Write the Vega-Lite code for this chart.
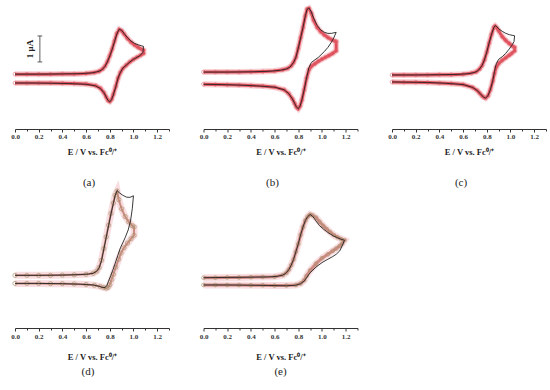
{
"$schema": "https://vega.github.io/schema/vega-lite/v6.json",
"background": "white",
"padding": {"left": 1, "top": -4, "right": 0, "bottom": 0},
"config": {"view": {"stroke": null}},
"datasets": {
"a_exp": [
{"k":1,"E":0.0,"I":0.15},{"k":2,"E":0.2,"I":0.15},{"k":3,"E":0.4,"I":0.16},{"k":4,"E":0.55,"I":0.17},{"k":5,"E":0.65,"I":0.2},{"k":6,"E":0.7,"I":0.25},{"k":7,"E":0.73,"I":0.3},{"k":8,"E":0.76,"I":0.45},{"k":9,"E":0.78,"I":0.62},{"k":10,"E":0.8,"I":0.85},{"k":11,"E":0.82,"I":1.1},{"k":12,"E":0.84,"I":1.4},{"k":13,"E":0.86,"I":1.7},{"k":14,"E":0.88,"I":1.88},{"k":15,"E":0.9,"I":1.84},{"k":16,"E":0.92,"I":1.72},{"k":17,"E":0.95,"I":1.55},{"k":18,"E":0.98,"I":1.42},{"k":19,"E":1.01,"I":1.33},{"k":20,"E":1.04,"I":1.28},{"k":21,"E":1.07,"I":1.24},{"k":22,"E":1.085,"I":1.22},
{"k":23,"E":1.08,"I":0.98},{"k":24,"E":1.05,"I":0.85},{"k":25,"E":1.02,"I":0.77},{"k":26,"E":1.0,"I":0.72},{"k":27,"E":0.97,"I":0.62},{"k":28,"E":0.94,"I":0.5},{"k":29,"E":0.91,"I":0.38},{"k":30,"E":0.89,"I":0.22},{"k":31,"E":0.87,"I":0.0},{"k":32,"E":0.85,"I":-0.35},{"k":33,"E":0.83,"I":-0.65},{"k":34,"E":0.815,"I":-0.83},{"k":35,"E":0.8,"I":-0.92},{"k":36,"E":0.785,"I":-0.86},{"k":37,"E":0.77,"I":-0.73},{"k":38,"E":0.75,"I":-0.56},{"k":39,"E":0.72,"I":-0.4},{"k":40,"E":0.68,"I":-0.3},{"k":41,"E":0.6,"I":-0.24},{"k":42,"E":0.45,"I":-0.21},{"k":43,"E":0.3,"I":-0.2},{"k":44,"E":0.15,"I":-0.19},{"k":45,"E":0.0,"I":-0.19}
],
"a_sim": [
{"k":1,"E":0.0,"I":0.15},{"k":2,"E":0.1,"I":0.15},{"k":3,"E":0.2,"I":0.15},{"k":4,"E":0.3,"I":0.15},{"k":5,"E":0.4,"I":0.16},{"k":6,"E":0.5,"I":0.16},{"k":7,"E":0.6,"I":0.18},{"k":8,"E":0.67,"I":0.21},{"k":9,"E":0.71,"I":0.26},{"k":10,"E":0.74,"I":0.35},{"k":11,"E":0.76,"I":0.46},{"k":12,"E":0.78,"I":0.63},{"k":13,"E":0.8,"I":0.86},{"k":14,"E":0.82,"I":1.12},{"k":15,"E":0.84,"I":1.42},{"k":16,"E":0.86,"I":1.72},{"k":17,"E":0.88,"I":1.87},{"k":18,"E":0.9,"I":1.82},{"k":19,"E":0.92,"I":1.7},{"k":20,"E":0.95,"I":1.52},{"k":21,"E":0.98,"I":1.38},{"k":22,"E":1.01,"I":1.27},{"k":23,"E":1.04,"I":1.18},{"k":24,"E":1.07,"I":1.1},{"k":25,"E":1.085,"I":1.07},
{"k":26,"E":1.085,"I":0.95},{"k":27,"E":1.06,"I":0.88},{"k":28,"E":1.03,"I":0.8},{"k":29,"E":1.0,"I":0.72},{"k":30,"E":0.97,"I":0.62},{"k":31,"E":0.94,"I":0.5},{"k":32,"E":0.91,"I":0.37},{"k":33,"E":0.89,"I":0.22},{"k":34,"E":0.87,"I":0.0},{"k":35,"E":0.85,"I":-0.33},{"k":36,"E":0.83,"I":-0.63},{"k":37,"E":0.815,"I":-0.82},{"k":38,"E":0.8,"I":-0.9},{"k":39,"E":0.785,"I":-0.86},{"k":40,"E":0.77,"I":-0.73},{"k":41,"E":0.75,"I":-0.56},{"k":42,"E":0.72,"I":-0.39},{"k":43,"E":0.68,"I":-0.29},{"k":44,"E":0.6,"I":-0.23},{"k":45,"E":0.5,"I":-0.21},{"k":46,"E":0.4,"I":-0.2},{"k":47,"E":0.3,"I":-0.19},{"k":48,"E":0.2,"I":-0.19},{"k":49,"E":0.1,"I":-0.19},{"k":50,"E":0.0,"I":-0.19}
],
"b_exp": [
{"k":1,"E":0.0,"I":0.23},{"k":2,"E":0.2,"I":0.23},{"k":3,"E":0.4,"I":0.24},{"k":4,"E":0.55,"I":0.26},{"k":5,"E":0.65,"I":0.3},{"k":6,"E":0.7,"I":0.35},{"k":7,"E":0.73,"I":0.42},{"k":8,"E":0.76,"I":0.6},{"k":9,"E":0.78,"I":0.8},{"k":10,"E":0.8,"I":1.15},{"k":11,"E":0.82,"I":1.55},{"k":12,"E":0.84,"I":1.95},{"k":13,"E":0.86,"I":2.4},{"k":14,"E":0.875,"I":2.65},{"k":15,"E":0.89,"I":2.7},{"k":16,"E":0.91,"I":2.55},{"k":17,"E":0.93,"I":2.3},{"k":18,"E":0.96,"I":2.02},{"k":19,"E":0.99,"I":1.85},{"k":20,"E":1.02,"I":1.76},{"k":21,"E":1.05,"I":1.72},{"k":22,"E":1.08,"I":1.72},{"k":23,"E":1.11,"I":1.75},{"k":24,"E":1.12,"I":1.76},
{"k":25,"E":1.1,"I":1.55},{"k":26,"E":1.08,"I":1.38},{"k":27,"E":1.05,"I":1.18},{"k":28,"E":1.02,"I":1.02},{"k":29,"E":1.0,"I":0.93},{"k":30,"E":0.97,"I":0.8},{"k":31,"E":0.94,"I":0.7},{"k":32,"E":0.91,"I":0.6},{"k":33,"E":0.89,"I":0.4},{"k":34,"E":0.87,"I":0.0},{"k":35,"E":0.85,"I":-0.45},{"k":36,"E":0.83,"I":-0.85},{"k":37,"E":0.815,"I":-1.08},{"k":38,"E":0.8,"I":-1.18},{"k":39,"E":0.785,"I":-1.12},{"k":40,"E":0.77,"I":-0.98},{"k":41,"E":0.75,"I":-0.8},{"k":42,"E":0.72,"I":-0.6},{"k":43,"E":0.68,"I":-0.45},{"k":44,"E":0.6,"I":-0.35},{"k":45,"E":0.45,"I":-0.3},{"k":46,"E":0.3,"I":-0.27},{"k":47,"E":0.15,"I":-0.25},{"k":48,"E":0.0,"I":-0.24}
],
"b_sim": [
{"k":1,"E":0.0,"I":0.23},{"k":2,"E":0.1,"I":0.23},{"k":3,"E":0.2,"I":0.23},{"k":4,"E":0.3,"I":0.23},{"k":5,"E":0.4,"I":0.24},{"k":6,"E":0.5,"I":0.25},{"k":7,"E":0.6,"I":0.27},{"k":8,"E":0.67,"I":0.32},{"k":9,"E":0.71,"I":0.37},{"k":10,"E":0.74,"I":0.47},{"k":11,"E":0.76,"I":0.6},{"k":12,"E":0.78,"I":0.8},{"k":13,"E":0.8,"I":1.15},{"k":14,"E":0.82,"I":1.55},{"k":15,"E":0.84,"I":1.95},{"k":16,"E":0.86,"I":2.4},{"k":17,"E":0.875,"I":2.65},{"k":18,"E":0.89,"I":2.68},{"k":19,"E":0.91,"I":2.5},{"k":20,"E":0.93,"I":2.22},{"k":21,"E":0.96,"I":1.95},{"k":22,"E":0.99,"I":1.78},{"k":23,"E":1.02,"I":1.66},{"k":24,"E":1.05,"I":1.56},{"k":25,"E":1.08,"I":1.48},{"k":26,"E":1.11,"I":1.42},{"k":27,"E":1.12,"I":1.4},
{"k":28,"E":1.12,"I":1.05},{"k":29,"E":1.09,"I":0.95},{"k":30,"E":1.06,"I":0.87},{"k":31,"E":1.03,"I":0.8},{"k":32,"E":1.0,"I":0.73},{"k":33,"E":0.97,"I":0.65},{"k":34,"E":0.94,"I":0.55},{"k":35,"E":0.91,"I":0.45},{"k":36,"E":0.89,"I":0.32},{"k":37,"E":0.87,"I":0.0},{"k":38,"E":0.85,"I":-0.45},{"k":39,"E":0.83,"I":-0.85},{"k":40,"E":0.815,"I":-1.08},{"k":41,"E":0.8,"I":-1.18},{"k":42,"E":0.785,"I":-1.12},{"k":43,"E":0.77,"I":-0.98},{"k":44,"E":0.75,"I":-0.8},{"k":45,"E":0.72,"I":-0.6},{"k":46,"E":0.68,"I":-0.45},{"k":47,"E":0.6,"I":-0.35},{"k":48,"E":0.5,"I":-0.31},{"k":49,"E":0.4,"I":-0.29},{"k":50,"E":0.3,"I":-0.27},{"k":51,"E":0.2,"I":-0.26},{"k":52,"E":0.1,"I":-0.25},{"k":53,"E":0.0,"I":-0.24}
],
"c_exp": [
{"k":1,"E":0.0,"I":0.12},{"k":2,"E":0.2,"I":0.12},{"k":3,"E":0.4,"I":0.13},{"k":4,"E":0.55,"I":0.14},{"k":5,"E":0.65,"I":0.17},{"k":6,"E":0.7,"I":0.22},{"k":7,"E":0.73,"I":0.3},{"k":8,"E":0.76,"I":0.48},{"k":9,"E":0.78,"I":0.7},{"k":10,"E":0.8,"I":1.0},{"k":11,"E":0.82,"I":1.35},{"k":12,"E":0.84,"I":1.68},{"k":13,"E":0.86,"I":1.95},{"k":14,"E":0.87,"I":2.02},{"k":15,"E":0.885,"I":1.98},{"k":16,"E":0.9,"I":1.9},{"k":17,"E":0.93,"I":1.8},{"k":18,"E":0.96,"I":1.72},{"k":19,"E":0.99,"I":1.67},{"k":20,"E":1.02,"I":1.64},{"k":21,"E":1.035,"I":1.63},
{"k":22,"E":1.03,"I":1.4},{"k":23,"E":1.01,"I":1.25},{"k":24,"E":0.99,"I":1.12},{"k":25,"E":0.96,"I":0.95},{"k":26,"E":0.93,"I":0.82},{"k":27,"E":0.9,"I":0.72},{"k":28,"E":0.88,"I":0.55},{"k":29,"E":0.865,"I":0.25},{"k":30,"E":0.85,"I":-0.12},{"k":31,"E":0.83,"I":-0.45},{"k":32,"E":0.81,"I":-0.68},{"k":33,"E":0.79,"I":-0.77},{"k":34,"E":0.775,"I":-0.74},{"k":35,"E":0.76,"I":-0.68},{"k":36,"E":0.74,"I":-0.58},{"k":37,"E":0.72,"I":-0.48},{"k":38,"E":0.68,"I":-0.36},{"k":39,"E":0.6,"I":-0.25},{"k":40,"E":0.45,"I":-0.2},{"k":41,"E":0.3,"I":-0.17},{"k":42,"E":0.15,"I":-0.16},{"k":43,"E":0.0,"I":-0.15}
],
"c_sim": [
{"k":1,"E":0.0,"I":0.12},{"k":2,"E":0.1,"I":0.12},{"k":3,"E":0.2,"I":0.12},{"k":4,"E":0.3,"I":0.12},{"k":5,"E":0.4,"I":0.13},{"k":6,"E":0.5,"I":0.13},{"k":7,"E":0.6,"I":0.15},{"k":8,"E":0.67,"I":0.19},{"k":9,"E":0.71,"I":0.24},{"k":10,"E":0.74,"I":0.35},{"k":11,"E":0.76,"I":0.48},{"k":12,"E":0.78,"I":0.7},{"k":13,"E":0.8,"I":1.0},{"k":14,"E":0.82,"I":1.35},{"k":15,"E":0.84,"I":1.68},{"k":16,"E":0.86,"I":1.95},{"k":17,"E":0.87,"I":2.0},{"k":18,"E":0.885,"I":1.93},{"k":19,"E":0.9,"I":1.82},{"k":20,"E":0.93,"I":1.6},{"k":21,"E":0.96,"I":1.45},{"k":22,"E":0.99,"I":1.33},{"k":23,"E":1.02,"I":1.22},{"k":24,"E":1.035,"I":1.18},
{"k":25,"E":1.035,"I":1.05},{"k":26,"E":1.01,"I":0.95},{"k":27,"E":0.99,"I":0.88},{"k":28,"E":0.96,"I":0.78},{"k":29,"E":0.93,"I":0.68},{"k":30,"E":0.9,"I":0.56},{"k":31,"E":0.88,"I":0.42},{"k":32,"E":0.865,"I":0.18},{"k":33,"E":0.85,"I":-0.12},{"k":34,"E":0.83,"I":-0.45},{"k":35,"E":0.81,"I":-0.68},{"k":36,"E":0.79,"I":-0.77},{"k":37,"E":0.775,"I":-0.74},{"k":38,"E":0.76,"I":-0.68},{"k":39,"E":0.74,"I":-0.58},{"k":40,"E":0.72,"I":-0.48},{"k":41,"E":0.68,"I":-0.36},{"k":42,"E":0.6,"I":-0.25},{"k":43,"E":0.5,"I":-0.21},{"k":44,"E":0.4,"I":-0.19},{"k":45,"E":0.3,"I":-0.17},{"k":46,"E":0.2,"I":-0.16},{"k":47,"E":0.1,"I":-0.16},{"k":48,"E":0.0,"I":-0.15}
],
"d_exp": [
{"k":1,"E":0.0,"I":0.14},{"k":2,"E":0.2,"I":0.14},{"k":3,"E":0.4,"I":0.15},{"k":4,"E":0.55,"I":0.17},{"k":5,"E":0.62,"I":0.19},{"k":6,"E":0.66,"I":0.22},{"k":7,"E":0.69,"I":0.3},{"k":8,"E":0.71,"I":0.42},{"k":9,"E":0.73,"I":0.7},{"k":10,"E":0.75,"I":1.15},{"k":11,"E":0.77,"I":1.6},{"k":12,"E":0.79,"I":2.05},{"k":13,"E":0.81,"I":2.5},{"k":14,"E":0.83,"I":2.9},{"k":15,"E":0.845,"I":3.2},{"k":16,"E":0.862,"I":3.4},{"k":17,"E":0.88,"I":3.32},{"k":18,"E":0.91,"I":3.22},{"k":19,"E":0.94,"I":3.15},{"k":20,"E":0.97,"I":3.14},{"k":21,"E":1.0,"I":3.2},
{"k":22,"E":0.99,"I":2.7},{"k":23,"E":0.975,"I":2.23},{"k":24,"E":0.955,"I":1.88},{"k":25,"E":0.93,"I":1.59},{"k":26,"E":0.89,"I":1.2},{"k":27,"E":0.86,"I":0.8},{"k":28,"E":0.833,"I":0.43},{"k":29,"E":0.81,"I":0.15},{"k":30,"E":0.79,"I":-0.08},{"k":31,"E":0.775,"I":-0.25},{"k":32,"E":0.76,"I":-0.33},{"k":33,"E":0.74,"I":-0.33},{"k":34,"E":0.71,"I":-0.28},{"k":35,"E":0.66,"I":-0.23},{"k":36,"E":0.55,"I":-0.2},{"k":37,"E":0.4,"I":-0.18},{"k":38,"E":0.2,"I":-0.17},{"k":39,"E":0.0,"I":-0.17}
],
"d_sim": [
{"k":1,"E":0.0,"I":0.14},{"k":2,"E":0.1,"I":0.14},{"k":3,"E":0.2,"I":0.14},{"k":4,"E":0.3,"I":0.14},{"k":5,"E":0.4,"I":0.15},{"k":6,"E":0.5,"I":0.16},{"k":7,"E":0.6,"I":0.18},{"k":8,"E":0.66,"I":0.22},{"k":9,"E":0.69,"I":0.3},{"k":10,"E":0.71,"I":0.44},{"k":11,"E":0.73,"I":0.72},{"k":12,"E":0.75,"I":1.17},{"k":13,"E":0.77,"I":1.62},{"k":14,"E":0.79,"I":2.07},{"k":15,"E":0.81,"I":2.52},{"k":16,"E":0.83,"I":2.92},{"k":17,"E":0.845,"I":3.22},{"k":18,"E":0.862,"I":3.38},{"k":19,"E":0.876,"I":3.05},{"k":20,"E":0.9,"I":2.7},{"k":21,"E":0.93,"I":2.4},{"k":22,"E":0.96,"I":2.2},{"k":23,"E":0.99,"I":2.05},{"k":24,"E":1.005,"I":2.0},
{"k":25,"E":1.005,"I":1.68},{"k":26,"E":0.98,"I":1.55},{"k":27,"E":0.95,"I":1.38},{"k":28,"E":0.92,"I":1.2},{"k":29,"E":0.895,"I":1.0},{"k":30,"E":0.875,"I":0.76},{"k":31,"E":0.85,"I":0.45},{"k":32,"E":0.83,"I":0.18},{"k":33,"E":0.815,"I":-0.02},{"k":34,"E":0.8,"I":-0.22},{"k":35,"E":0.785,"I":-0.32},{"k":36,"E":0.77,"I":-0.35},{"k":37,"E":0.75,"I":-0.33},{"k":38,"E":0.72,"I":-0.29},{"k":39,"E":0.67,"I":-0.24},{"k":40,"E":0.6,"I":-0.21},{"k":41,"E":0.5,"I":-0.19},{"k":42,"E":0.4,"I":-0.18},{"k":43,"E":0.3,"I":-0.18},{"k":44,"E":0.2,"I":-0.17},{"k":45,"E":0.1,"I":-0.17},{"k":46,"E":0.0,"I":-0.17}
],
"e_exp": [
{"k":1,"E":0.0,"I":0.05},{"k":2,"E":0.2,"I":0.06},{"k":3,"E":0.4,"I":0.07},{"k":4,"E":0.55,"I":0.08},{"k":5,"E":0.62,"I":0.1},{"k":6,"E":0.67,"I":0.15},{"k":7,"E":0.7,"I":0.24},{"k":8,"E":0.72,"I":0.36},{"k":9,"E":0.74,"I":0.53},{"k":10,"E":0.76,"I":0.75},{"k":11,"E":0.78,"I":1.05},{"k":12,"E":0.8,"I":1.35},{"k":13,"E":0.82,"I":1.7},{"k":14,"E":0.84,"I":2.0},{"k":15,"E":0.86,"I":2.25},{"k":16,"E":0.88,"I":2.4},{"k":17,"E":0.9,"I":2.48},{"k":18,"E":0.92,"I":2.42},{"k":19,"E":0.95,"I":2.23},{"k":20,"E":0.98,"I":2.05},{"k":21,"E":1.01,"I":1.93},{"k":22,"E":1.04,"I":1.82},{"k":23,"E":1.07,"I":1.73},{"k":24,"E":1.1,"I":1.65},{"k":25,"E":1.13,"I":1.59},{"k":26,"E":1.16,"I":1.53},{"k":27,"E":1.19,"I":1.49},
{"k":28,"E":1.17,"I":1.27},{"k":29,"E":1.15,"I":1.08},{"k":30,"E":1.12,"I":0.95},{"k":31,"E":1.09,"I":0.86},{"k":32,"E":1.05,"I":0.76},{"k":33,"E":1.0,"I":0.63},{"k":34,"E":0.95,"I":0.46},{"k":35,"E":0.9,"I":0.24},{"k":36,"E":0.87,"I":0.05},{"k":37,"E":0.85,"I":-0.08},{"k":38,"E":0.82,"I":-0.18},{"k":39,"E":0.78,"I":-0.24},{"k":40,"E":0.7,"I":-0.26},{"k":41,"E":0.55,"I":-0.25},{"k":42,"E":0.4,"I":-0.24},{"k":43,"E":0.2,"I":-0.23},{"k":44,"E":0.0,"I":-0.23}
],
"e_sim": [
{"k":1,"E":0.0,"I":0.05},{"k":2,"E":0.1,"I":0.05},{"k":3,"E":0.2,"I":0.06},{"k":4,"E":0.3,"I":0.06},{"k":5,"E":0.4,"I":0.07},{"k":6,"E":0.5,"I":0.08},{"k":7,"E":0.6,"I":0.09},{"k":8,"E":0.67,"I":0.15},{"k":9,"E":0.7,"I":0.24},{"k":10,"E":0.72,"I":0.36},{"k":11,"E":0.74,"I":0.53},{"k":12,"E":0.76,"I":0.75},{"k":13,"E":0.78,"I":1.05},{"k":14,"E":0.8,"I":1.35},{"k":15,"E":0.82,"I":1.7},{"k":16,"E":0.84,"I":2.0},{"k":17,"E":0.86,"I":2.25},{"k":18,"E":0.88,"I":2.4},{"k":19,"E":0.9,"I":2.48},{"k":20,"E":0.92,"I":2.45},{"k":21,"E":0.95,"I":2.36},{"k":22,"E":0.98,"I":2.2},{"k":23,"E":1.01,"I":2.05},{"k":24,"E":1.04,"I":1.92},{"k":25,"E":1.07,"I":1.8},{"k":26,"E":1.1,"I":1.69},{"k":27,"E":1.13,"I":1.61},{"k":28,"E":1.16,"I":1.54},{"k":29,"E":1.19,"I":1.49},
{"k":30,"E":1.17,"I":1.36},{"k":31,"E":1.15,"I":1.27},{"k":32,"E":1.12,"I":1.17},{"k":33,"E":1.09,"I":1.08},{"k":34,"E":1.05,"I":0.95},{"k":35,"E":1.0,"I":0.8},{"k":36,"E":0.95,"I":0.59},{"k":37,"E":0.9,"I":0.33},{"k":38,"E":0.87,"I":0.12},{"k":39,"E":0.85,"I":-0.05},{"k":40,"E":0.82,"I":-0.17},{"k":41,"E":0.78,"I":-0.23},{"k":42,"E":0.7,"I":-0.25},{"k":43,"E":0.6,"I":-0.25},{"k":44,"E":0.5,"I":-0.24},{"k":45,"E":0.4,"I":-0.24},{"k":46,"E":0.3,"I":-0.23},{"k":47,"E":0.2,"I":-0.23},{"k":48,"E":0.1,"I":-0.23},{"k":49,"E":0.0,"I":-0.23}
],
"bar": [{"E":0.21,"I":0.62,"I2":1.62}],
"caps": [{"E":0.19,"E2":0.23,"I":0.62},{"E":0.19,"E2":0.23,"I":1.62}],
"barlabel": [{"E":0.125,"I":1.12,"t":"1 μA"}]
},
"spacing": -12,
"vconcat": [
{"hconcat": [
{"width": 154, "height": 125,
 "title": {"text": "(a)", "orient": "bottom", "offset": 21, "dx": -3, "font": "Liberation Serif", "fontSize": 11, "fontWeight": "normal", "color": "#222"},
 "encoding": {
  "x": {"field": "E", "type": "quantitative", "scale": {"domain": [0, 1.3], "nice": false, "zero": false},
   "axis": {"values": [0,0.1,0.2,0.3,0.4,0.5,0.6,0.7,0.8,0.9,1.0,1.1,1.2,1.3], "labelExpr": "abs(datum.value*5 - round(datum.value*5)) < 0.01 && datum.value < 1.25 ? format(datum.value, '.1f') : ''", "tickSize": {"condition": {"test": "abs(datum.value*5 - round(datum.value*5)) < 0.01", "value": 3}, "value": 2}, "grid": false, "domainColor": "#333", "tickColor": "#333", "labelFont": "Liberation Serif", "labelFontWeight": "bold", "labelFontSize": 7, "labelColor": "#333", "labelPadding": 0, "labelFlush": false, "labelOverlap": false, "title": "E / V vs. Fc⁰/⁺", "titleFont": "Liberation Serif", "titleFontSize": 8.5, "titleFontWeight": "bold", "titleColor": "#222", "titlePadding": 8}},
  "y": {"field": "I", "type": "quantitative", "scale": {"domain": [-1.96, 2.85], "nice": false, "zero": false}, "axis": null}
 },
 "layer": [
  {"data": {"name": "a_sim"}, "mark": {"type": "line", "color": "#f3b3b8", "strokeWidth": 6, "opacity": 0.6}, "encoding": {"order": {"field": "k"}}},
  {"data": {"name": "a_sim"}, "mark": {"type": "line", "color": "#e0505c", "strokeWidth": 3}, "encoding": {"order": {"field": "k"}}},
  {"data": {"name": "a_sim"}, "mark": {"type": "point", "shape": "circle", "filled": false, "color": "#e26670", "size": 14, "strokeWidth": 0.8}},
  {"data": {"name": "a_exp"}, "mark": {"type": "line", "color": "#222", "strokeWidth": 0.9}, "encoding": {"order": {"field": "k"}}},
  {"data": {"name": "bar"}, "mark": {"type": "rule", "color": "#333", "strokeWidth": 0.8}, "encoding": {"y2": {"field": "I2"}}},
  {"data": {"name": "caps"}, "mark": {"type": "rule", "color": "#333", "strokeWidth": 0.8}, "encoding": {"x2": {"field": "E2"}}},
  {"data": {"name": "barlabel"}, "mark": {"type": "text", "angle": 270, "font": "Liberation Serif", "fontWeight": "bold", "fontSize": 9, "color": "#222", "align": "center", "baseline": "middle"}, "encoding": {"text": {"field": "t"}}}
 ]
},
{"width": 154, "height": 125,
 "title": {"text": "(b)", "orient": "bottom", "offset": 21, "dx": -8, "font": "Liberation Serif", "fontSize": 11, "fontWeight": "normal", "color": "#222"},
 "encoding": {
  "x": {"field": "E", "type": "quantitative", "scale": {"domain": [0, 1.3], "nice": false, "zero": false},
   "axis": {"values": [0,0.1,0.2,0.3,0.4,0.5,0.6,0.7,0.8,0.9,1.0,1.1,1.2,1.3], "labelExpr": "abs(datum.value*5 - round(datum.value*5)) < 0.01 && datum.value < 1.25 ? format(datum.value, '.1f') : ''", "tickSize": {"condition": {"test": "abs(datum.value*5 - round(datum.value*5)) < 0.01", "value": 3}, "value": 2}, "grid": false, "domainColor": "#333", "tickColor": "#333", "labelFont": "Liberation Serif", "labelFontWeight": "bold", "labelFontSize": 7, "labelColor": "#333", "labelPadding": 0, "labelFlush": false, "labelOverlap": false, "title": "E / V vs. Fc⁰/⁺", "titleFont": "Liberation Serif", "titleFontSize": 8.5, "titleFontWeight": "bold", "titleColor": "#222", "titlePadding": 8}},
  "y": {"field": "I", "type": "quantitative", "scale": {"domain": [-1.96, 2.85], "nice": false, "zero": false}, "axis": null}
 },
 "layer": [
  {"data": {"name": "b_sim"}, "mark": {"type": "line", "color": "#f3b3b8", "strokeWidth": 6, "opacity": 0.6}, "encoding": {"order": {"field": "k"}}},
  {"data": {"name": "b_sim"}, "mark": {"type": "line", "color": "#e0505c", "strokeWidth": 3}, "encoding": {"order": {"field": "k"}}},
  {"data": {"name": "b_sim"}, "mark": {"type": "point", "shape": "circle", "filled": false, "color": "#e26670", "size": 14, "strokeWidth": 0.8}},
  {"data": {"name": "b_exp"}, "mark": {"type": "line", "color": "#222", "strokeWidth": 0.9}, "encoding": {"order": {"field": "k"}}}
 ]
},
{"width": 154, "height": 125,
 "title": {"text": "(c)", "orient": "bottom", "offset": 21, "dx": -8, "font": "Liberation Serif", "fontSize": 11, "fontWeight": "normal", "color": "#222"},
 "encoding": {
  "x": {"field": "E", "type": "quantitative", "scale": {"domain": [0, 1.3], "nice": false, "zero": false},
   "axis": {"values": [0,0.1,0.2,0.3,0.4,0.5,0.6,0.7,0.8,0.9,1.0,1.1,1.2,1.3], "labelExpr": "abs(datum.value*5 - round(datum.value*5)) < 0.01 && datum.value < 1.25 ? format(datum.value, '.1f') : ''", "tickSize": {"condition": {"test": "abs(datum.value*5 - round(datum.value*5)) < 0.01", "value": 3}, "value": 2}, "grid": false, "domainColor": "#333", "tickColor": "#333", "labelFont": "Liberation Serif", "labelFontWeight": "bold", "labelFontSize": 7, "labelColor": "#333", "labelPadding": 0, "labelFlush": false, "labelOverlap": false, "title": "E / V vs. Fc⁰/⁺", "titleFont": "Liberation Serif", "titleFontSize": 8.5, "titleFontWeight": "bold", "titleColor": "#222", "titlePadding": 8}},
  "y": {"field": "I", "type": "quantitative", "scale": {"domain": [-1.96, 2.85], "nice": false, "zero": false}, "axis": null}
 },
 "layer": [
  {"data": {"name": "c_sim"}, "mark": {"type": "line", "color": "#f3b3b8", "strokeWidth": 6, "opacity": 0.6}, "encoding": {"order": {"field": "k"}}},
  {"data": {"name": "c_sim"}, "mark": {"type": "line", "color": "#e0505c", "strokeWidth": 3}, "encoding": {"order": {"field": "k"}}},
  {"data": {"name": "c_sim"}, "mark": {"type": "point", "shape": "circle", "filled": false, "color": "#e26670", "size": 14, "strokeWidth": 0.8}},
  {"data": {"name": "c_exp"}, "mark": {"type": "line", "color": "#222", "strokeWidth": 0.9}, "encoding": {"order": {"field": "k"}}}
 ]
}
], "spacing": 34.5, "bounds": "flush"},
{"hconcat": [
{"width": 154, "height": 140,
 "title": {"text": "(d)", "orient": "bottom", "offset": 5, "dx": -4, "font": "Liberation Serif", "fontSize": 11, "fontWeight": "normal", "color": "#222"},
 "encoding": {
  "x": {"field": "E", "type": "quantitative", "scale": {"domain": [0, 1.3], "nice": false, "zero": false},
   "axis": {"values": [0,0.1,0.2,0.3,0.4,0.5,0.6,0.7,0.8,0.9,1.0,1.1,1.2,1.3], "labelExpr": "abs(datum.value*5 - round(datum.value*5)) < 0.01 && datum.value < 1.25 ? format(datum.value, '.1f') : ''", "tickSize": {"condition": {"test": "abs(datum.value*5 - round(datum.value*5)) < 0.01", "value": 3}, "value": 2}, "grid": false, "domainColor": "#333", "tickColor": "#333", "labelFont": "Liberation Serif", "labelFontWeight": "bold", "labelFontSize": 7, "labelColor": "#333", "labelPadding": 1, "labelFlush": false, "labelOverlap": false, "title": "E / V vs. Fc⁰/⁺", "titleFont": "Liberation Serif", "titleFontSize": 8.5, "titleFontWeight": "bold", "titleColor": "#222", "titlePadding": 13}},
  "y": {"field": "I", "type": "quantitative", "scale": {"domain": [-1.885, 3.5], "nice": false, "zero": false}, "axis": null}
 },
 "layer": [
  {"data": {"name": "d_sim"}, "mark": {"type": "line", "color": "#f7d0d4", "strokeWidth": 7, "opacity": 0.7}, "encoding": {"order": {"field": "k"}}},
  {"data": {"name": "d_sim"}, "mark": {"type": "line", "color": "#c98a80", "strokeWidth": 2}, "encoding": {"order": {"field": "k"}}},
  {"data": {"name": "d_sim"}, "mark": {"type": "point", "shape": "circle", "filled": false, "color": "#a8946c", "size": 18, "strokeWidth": 1}},
  {"data": {"name": "d_exp"}, "mark": {"type": "line", "color": "#222", "strokeWidth": 0.9}, "encoding": {"order": {"field": "k"}}}
 ]
},
{"width": 154, "height": 140,
 "title": {"text": "(e)", "orient": "bottom", "offset": 5, "dx": 0, "font": "Liberation Serif", "fontSize": 11, "fontWeight": "normal", "color": "#222"},
 "encoding": {
  "x": {"field": "E", "type": "quantitative", "scale": {"domain": [0, 1.3], "nice": false, "zero": false},
   "axis": {"values": [0,0.1,0.2,0.3,0.4,0.5,0.6,0.7,0.8,0.9,1.0,1.1,1.2,1.3], "labelExpr": "abs(datum.value*5 - round(datum.value*5)) < 0.01 && datum.value < 1.25 ? format(datum.value, '.1f') : ''", "tickSize": {"condition": {"test": "abs(datum.value*5 - round(datum.value*5)) < 0.01", "value": 3}, "value": 2}, "grid": false, "domainColor": "#333", "tickColor": "#333", "labelFont": "Liberation Serif", "labelFontWeight": "bold", "labelFontSize": 7, "labelColor": "#333", "labelPadding": 1, "labelFlush": false, "labelOverlap": false, "title": "E / V vs. Fc⁰/⁺", "titleFont": "Liberation Serif", "titleFontSize": 8.5, "titleFontWeight": "bold", "titleColor": "#222", "titlePadding": 13}},
  "y": {"field": "I", "type": "quantitative", "scale": {"domain": [-1.885, 3.5], "nice": false, "zero": false}, "axis": null}
 },
 "layer": [
  {"data": {"name": "e_sim"}, "mark": {"type": "line", "color": "#f7d0d4", "strokeWidth": 7, "opacity": 0.7}, "encoding": {"order": {"field": "k"}}},
  {"data": {"name": "e_sim"}, "mark": {"type": "line", "color": "#d08a84", "strokeWidth": 3}, "encoding": {"order": {"field": "k"}}},
  {"data": {"name": "e_sim"}, "mark": {"type": "point", "shape": "circle", "filled": false, "color": "#a8946c", "size": 14, "strokeWidth": 1}},
  {"data": {"name": "e_exp"}, "mark": {"type": "line", "color": "#222", "strokeWidth": 0.9}, "encoding": {"order": {"field": "k"}}}
 ]
}
], "spacing": 34.5, "bounds": "flush"}
]
}
